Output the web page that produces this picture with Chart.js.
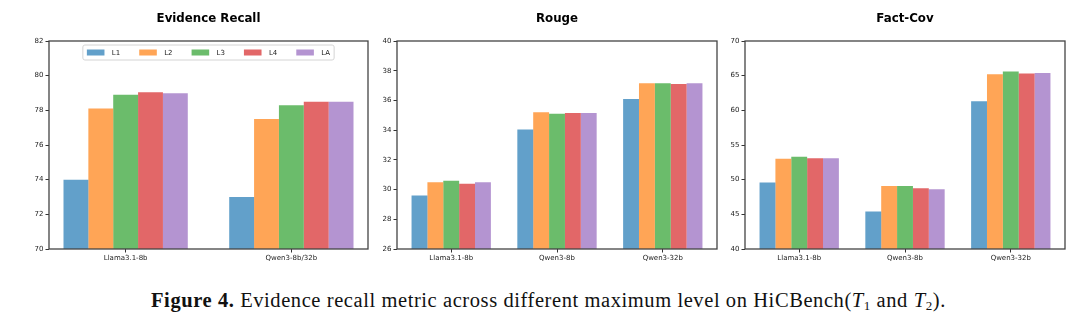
<!DOCTYPE html>
<html>
<head>
<meta charset="utf-8">
<script src="https://cdn.jsdelivr.net/npm/chart.js@4.4.1/dist/chart.umd.min.js"></script>
<style>
  body { margin: 0; background: #fff; }
  #page { position: relative; width: 1080px; height: 330px; background: #fff; overflow: hidden; }
  canvas { position: absolute; top: 0; }
  #caption {
    position: absolute; left: 151px; top: 290px;
    font-family: "Liberation Serif", serif; font-size: 20.5px; line-height: 1;
    letter-spacing: 0.58px; white-space: nowrap; color: #111;
  }
  #caption sub { font-size: 13px; vertical-align: -3px; line-height: 0; }
</style>
</head>
<body>
<div id="page">
  <canvas id="recallChart" width="372" height="275" style="left:0px"></canvas>
  <canvas id="rougeChart" width="348" height="275" style="left:372px"></canvas>
  <canvas id="factChart" width="360" height="275" style="left:720px"></canvas>
  <div id="caption"><b>Figure 4.</b> Evidence recall metric across different maximum level on HiCBench(<i>T</i><sub>1</sub> and <i>T</i><sub>2</sub>).</div>
</div>
<script>
const levels = ['L1', 'L2', 'L3', 'L4', 'LA'];
const levelColors = [
    'rgba(31, 119, 180, 0.7)',
    'rgba(255, 127, 14, 0.7)',
    'rgba(44, 160, 44, 0.7)',
    'rgba(214, 39, 40, 0.7)',
    'rgba(148, 103, 189, 0.7)'
];

// Evidence Recall
const recallCats = ['Llama3.1-8b', 'Qwen3-8b/32b'];
const recallL1 = [74.0, 73.0];
const recallL2 = [78.1, 77.5];
const recallL3 = [78.9, 78.3];
const recallL4 = [79.05, 78.5];
const recallLA = [78.98, 78.5];

// Rouge
const rougeCats = ['Llama3.1-8b', 'Qwen3-8b', 'Qwen3-32b'];
const rougeL1 = [29.6, 34.05, 36.1];
const rougeL2 = [30.5, 35.2, 37.15];
const rougeL3 = [30.6, 35.1, 37.15];
const rougeL4 = [30.4, 35.15, 37.1];
const rougeLA = [30.5, 35.15, 37.15];

// Fact-Cov
const factCats = ['Llama3.1-8b', 'Qwen3-8b', 'Qwen3-32b'];
const factL1 = [49.6, 45.4, 61.3];
const factL2 = [53.0, 49.1, 65.2];
const factL3 = [53.3, 49.1, 65.6];
const factL4 = [53.1, 48.75, 65.3];
const factLA = [53.1, 48.6, 65.4];

const FONT = 'DejaVu Sans';

// box around the plot area, like matplotlib spines
const framePlugin = {
    id: 'frame',
    afterDatasetsDraw(chart) {
        const { ctx, chartArea: a } = chart;
        ctx.save();
        ctx.strokeStyle = '#444';
        ctx.lineWidth = 1.3;
        ctx.strokeRect(a.left, a.top, a.right - a.left, a.bottom - a.top);
        ctx.restore();
    }
};

// legend drawn inside the plot, upper center, one row
const innerLegend = {
    id: 'innerLegend',
    afterDraw(chart) {
        const { ctx, chartArea: a } = chart;
        const sets = chart.data.datasets;
        ctx.save();
        ctx.font = '7px "' + FONT + '"';
        const sw = 17.6, sh = 6, gap = 7.4, colGap = 19, pad = 4;
        let total = 0;
        const widths = sets.map(d => ctx.measureText(d.label).width);
        widths.forEach((w, i) => { total += sw + gap + w + (i < widths.length - 1 ? colGap : 0); });
        const boxW = total + pad * 2, boxH = 15;
        const x0 = (a.left + a.right) / 2 - boxW / 2;
        const y0 = a.top + 4;
        ctx.beginPath();
        ctx.roundRect(x0, y0, boxW, boxH, 2);
        ctx.fillStyle = 'rgba(255,255,255,0.8)';
        ctx.fill();
        ctx.strokeStyle = '#d4d4d4';
        ctx.lineWidth = 1;
        ctx.stroke();
        let x = x0 + pad;
        const cy = y0 + boxH / 2;
        sets.forEach((d, i) => {
            ctx.fillStyle = d.backgroundColor;
            ctx.fillRect(x, cy - sh / 2, sw, sh);
            ctx.fillStyle = '#222';
            ctx.textBaseline = 'middle';
            ctx.textAlign = 'left';
            ctx.fillText(d.label, x + sw + gap, cy + 0.5);
            x += sw + gap + widths[i] + colGap;
        });
        ctx.restore();
    }
};

// matplotlib-style x limits: group of 5 bars of 0.15 each, plus 5% margin
function mplCategoryLimits(scale) {
    const n = scale.getLabels().length;
    const span = (n - 1) + 0.75;
    const half = 0.375 + 0.05 * span;
    scale._startValue = -half;
    scale._valueRange = (n - 1) + 2 * half;
}

function makePanel(id, title, cats, series, yMin, yMax, step, yWidth, padRight, withLegend) {
    const ctx = document.getElementById(id).getContext('2d');
    return new Chart(ctx, {
        type: 'bar',
        data: {
            labels: cats,
            datasets: series.map((vals, i) => ({
                label: levels[i],
                data: vals,
                backgroundColor: levelColors[i],
                borderWidth: 0,
                categoryPercentage: 0.75,
                barPercentage: 1.0
            }))
        },
        options: {
            responsive: false,
            animation: false,
            layout: { padding: { left: 0, right: padRight, top: 0, bottom: 0 } },
            plugins: {
                legend: { display: false },
                tooltip: { enabled: false },
                title: {
                    display: true,
                    text: title,
                    fullSize: false,
                    color: '#000',
                    font: { family: FONT, size: 11.8, weight: 'bold' },
                    padding: { top: 12, bottom: 14.84 }
                }
            },
            scales: {
                x: {
                    type: 'category',
                    offset: true,
                    border: { display: false },
                    grid: { offset: false, drawOnChartArea: false, drawTicks: true, tickLength: 3.5, color: '#333' },
                    ticks: { color: '#222', font: { family: FONT, size: 7 }, padding: 1, maxRotation: 0 },
                    afterBuildTicks: mplCategoryLimits,
                    afterFit(scale) { scale.height = 26; }
                },
                y: {
                    min: yMin,
                    max: yMax,
                    border: { display: false },
                    grid: { drawOnChartArea: false, drawTicks: true, tickLength: 3.5, color: '#333' },
                    ticks: { stepSize: step, color: '#222', font: { family: FONT, size: 7 }, padding: 2 },
                    afterFit(scale) { scale.width = yWidth; }
                }
            }
        },
        plugins: withLegend ? [framePlugin, innerLegend] : [framePlugin]
    });
}

makePanel('recallChart', 'Evidence Recall', recallCats,
    [recallL1, recallL2, recallL3, recallL4, recallLA], 70, 82, 2, 49, 4, true);
makePanel('rougeChart', 'Rouge', rougeCats,
    [rougeL1, rougeL2, rougeL3, rougeL4, rougeLA], 26, 40, 2, 25, 3, false);
makePanel('factChart', 'Fact-Cov', factCats,
    [factL1, factL2, factL3, factL4, factLA], 40, 70, 5, 25, 15, false);
</script>
</body>
</html>
